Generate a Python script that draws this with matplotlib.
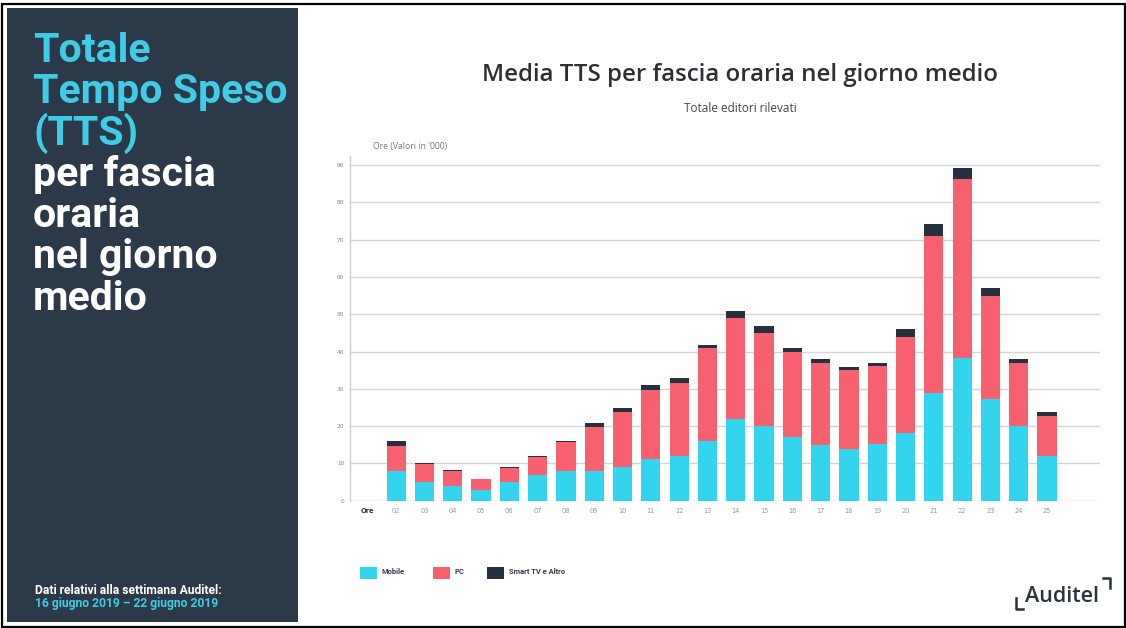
import matplotlib
matplotlib.use("Agg")
import matplotlib.pyplot as plt
from matplotlib.patches import Rectangle
from matplotlib.lines import Line2D
import numpy as np

# --- data: average TTS ('000 hours) per hourly slot of the Auditel day ---
hours = ["02", "03", "04", "05", "06", "07", "08", "09", "10", "11", "12", "13",
         "14", "15", "16", "17", "18", "19", "20", "21", "22", "23", "24", "25"]
mobile = [8.0, 4.9, 3.9, 3.0, 5.1, 6.9, 8.0, 8.0, 9.0, 11.2, 12.0, 16.0,
          22.0, 20.0, 17.0, 14.9, 13.8, 15.1, 18.1, 29.0, 38.3, 27.2, 20.0, 12.0]
pc = [6.7, 4.9, 4.1, 2.8, 3.8, 4.8, 7.8, 11.7, 14.7, 18.5, 19.6, 24.9,
      27.0, 25.0, 22.8, 22.1, 21.2, 20.9, 25.9, 42.0, 47.9, 27.8, 17.0, 10.8]
smart_tv = [1.3, 0.2, 0.1, 0.1, 0.2, 0.2, 0.2, 1.0, 1.2, 1.3, 1.2, 0.9,
            1.9, 1.8, 1.2, 1.0, 0.8, 0.8, 2.0, 3.2, 2.9, 2.1, 1.0, 0.9]
series_names = ["Mobile", "PC", "Smart TV e Altro"]
y_ticks = [0, 10, 20, 30, 40, 50, 60, 70, 80, 90]

C_MOBILE = "#33d4ee"
C_PC = "#f7606f"
C_OTHER = "#27303e"
C_PANEL = "#2b3949"
C_CYAN_TXT = "#3fcde6"
C_DARK_TXT = "#2e2e33"

W, H = 1126, 628
fig = plt.figure(figsize=(W / 100, H / 100), dpi=100)
fig.patch.set_facecolor("white")


def fx(px):
    return px / W


def fy(py):
    return 1 - py / H


# outer frame and left panel
fig.patches.append(Rectangle((fx(1.5), fy(626.5)), fx(1123), (623) / H,
                             transform=fig.transFigure, fill=False,
                             edgecolor="black", linewidth=1.6, zorder=0))
fig.patches.append(Rectangle((fx(7), fy(622)), fx(291), (614) / H,
                             transform=fig.transFigure, facecolor=C_PANEL,
                             edgecolor="none", zorder=0))

# left panel heading
head_font = dict(family="Roboto", fontweight="bold", fontsize=29.5, va="baseline", ha="left")
lines = [("Totale", C_CYAN_TXT), ("Tempo Speso", C_CYAN_TXT), ("(TTS)", C_CYAN_TXT),
         ("per fascia", "white"), ("oraria", "white"), ("nel giorno", "white"),
         ("medio", "white")]
base0 = 62
for i, (txt, col) in enumerate(lines):
    fig.text(fx(33), fy(base0 + i * 41.3), txt, color=col, **head_font)

fig.text(fx(35), fy(590), "Dati relativi alla settimana Auditel:", color="white",
         family="Roboto", fontweight="bold", fontsize=8.7, va="center", ha="left")
fig.text(fx(35), fy(603), "16 giugno 2019 \u2013 22 giugno 2019", color=C_CYAN_TXT,
         family="Roboto", fontweight="bold", fontsize=8.7, va="center", ha="left")

# titles
fig.text(fx(740), fy(75), "Media TTS per fascia oraria nel giorno medio",
         color=C_DARK_TXT, family="Open Sans", fontweight="semibold", fontsize=17.3,
         ha="center", va="center")
fig.text(fx(740), fy(108), "Totale editori rilevati", color="#444444",
         family="Open Sans", fontsize=8.5, ha="center", va="center")

# chart
ax = fig.add_axes([fx(350), fy(500.7), fx(750), (500.7 - 155.7) / H])
x = np.arange(len(hours))
mob = np.array(mobile)
pcs = np.array(pc)
oth = np.array(smart_tv)
bw = 0.68
ax.bar(x, mob, width=bw, color=C_MOBILE, zorder=3)
ax.bar(x, pcs, width=bw, bottom=mob, color=C_PC, zorder=3)
ax.bar(x, oth, width=bw, bottom=mob + pcs, color=C_OTHER, zorder=3)

ax.set_xlim(-1.63, 24.87)
ax.set_ylim(0, 92.5)
ax.set_yticks(y_ticks)
ax.set_yticklabels([str(v) for v in y_ticks], fontsize=4.2, color="#888888")
ax.yaxis.grid(True, color="#d6d6d6", linewidth=1.0, zorder=0)
ax.set_xticks([-1] + list(x))
ax.set_xticklabels(["Ore"] + hours, fontsize=4.8, color="#999999")
ax.get_xticklabels()[0].set_color("#333333")
ax.get_xticklabels()[0].set_fontweight("bold")
ax.tick_params(axis="both", length=0)
ax.tick_params(axis="x", pad=5)
ax.tick_params(axis="y", pad=4)
for s in ["top", "right", "bottom"]:
    ax.spines[s].set_visible(False)
ax.spines["left"].set_color("#cfcfcf")
ax.spines["left"].set_linewidth(1.0)
ax.set_facecolor("none")

fig.text(fx(373), fy(146), "Ore (Valori in '000)", color="#777777",
         family="Open Sans", fontsize=6.2, ha="left", va="center")

# legend
leg_items = [(360, C_MOBILE, series_names[0]), (433, C_PC, series_names[1]),
             (487, C_OTHER, series_names[2])]
for px, col, name in leg_items:
    fig.patches.append(Rectangle((fx(px), fy(579)), fx(17), 12 / H,
                                 transform=fig.transFigure, facecolor=col,
                                 edgecolor="none"))
    fig.text(fx(px + 22), fy(572), name, color="#3a3a4a", family="Roboto",
             fontweight="bold", fontsize=5.4, ha="left", va="center")

# Auditel mark
fig.text(fx(1062), fy(596), "Auditel", color="#2a3340", family="Open Sans",
         fontweight="semibold", fontsize=15.5, ha="center", va="center")
fig.lines.append(Line2D([fx(1016), fx(1016), fx(1023)], [fy(598), fy(609), fy(609)],
                        transform=fig.transFigure, color="#2a3340", linewidth=1.8))
fig.lines.append(Line2D([fx(1103), fx(1110), fx(1110)], [fy(578), fy(578), fy(588)],
                        transform=fig.transFigure, color="#2a3340", linewidth=1.8))

fig.savefig("out.png", dpi=100)
